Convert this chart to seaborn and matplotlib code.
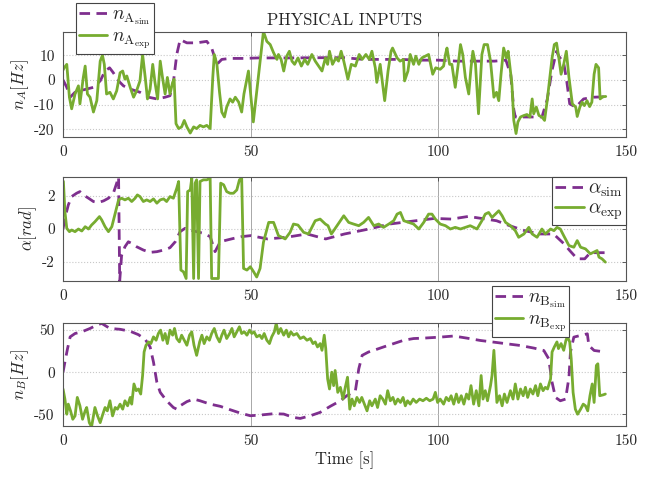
import numpy as np
import pandas as pd
import seaborn as sns
import matplotlib.pyplot as plt

# --- data ---------------------------------------------------------------
# panel 1: n_A [Hz]
t_na_sim = [0, 1, 1.9, 3.2, 4.5, 6.3, 8.1, 9.9, 11.2, 12.4, 13.4, 14.8, 16.1, 17.9,
            20.5, 22.8, 25, 27.2, 28.5, 29.4, 30.3, 31.2, 33, 35.6, 38.3, 39.6, 41,
            42.3, 44.5, 48.1, 52, 60, 70, 75, 80, 90, 95, 100, 105, 110, 115, 118,
            119.3, 120.1, 120.5, 124, 127.6, 129, 130.3, 131.5, 132.1, 133.4, 134.2,
            135, 136.6, 138.7, 141.3, 144.6]
na_sim = [0, -3, -7, -5, -4.4, -3.7, -3, -0.4, 3.6, 4.9, 2.9, -0.4, -2.4, -3.7,
          -5, -7, -7.7, -7, -6.4, -1, 10.3, 16.3, 15, 15, 15.6, 12.9, 6.3,
          8.3, 8.7, 8.7, 8.9, 8.9, 9, 9, 8.3, 8.3, 8, 8, 7.6, 7.6, 7.6, 8,
          2, -12, -15, -15, -15, -8, 4, 11.6, 9.6, 6.9, -0.4,
          -9.7, -11, -7.7, -7, -6.8]

t_na_exp = [0, 0.3, 1, 1.7, 2.3, 3.2, 4.1, 4.5, 5.4, 5.9, 6.5, 7.2, 8.1, 9, 9.9, 10.5,
            11, 11.6, 12.5, 13.4, 14.3, 15.2, 15.9, 16.5, 17, 17.9, 18.8, 19.6, 20.5,
            21.2, 21.9, 22.5, 23.2, 23.9, 24.5, 25.2, 25.9, 26.5, 27.2, 27.8, 28.5,
            29.2, 29.6, 30.1, 30.8, 31.6, 32.3, 33, 33.9, 34.8, 35.6, 36.5, 37.4,
            38.3, 39.2, 39.9, 40.3, 41, 41.7, 42.3, 43, 43.6, 44.5, 45.2, 45.9, 46.8,
            47.6, 48.2, 49.4, 50.7, 53.4, 54.3, 55.2, 56.1, 57, 57.4, 58.1, 58.8,
            59.6, 60.3, 61, 61.7, 62.6, 63.5, 64.4, 65.2, 66.3, 67.2, 69, 69.9, 70.5,
            71, 71.8, 72.7, 73.4, 74.1, 74.8, 75.9, 76.8, 77.9, 78.9, 79.7, 80.7,
            81.6, 82.3, 83.2, 83.6, 84.5, 85.7, 86.6, 87.4, 87.8, 89, 89.8, 90.7, 91,
            91.9, 92.5, 93.4, 94, 94.8, 95.6, 97.4, 98.5, 99.3, 100.5, 101.4, 101.9,
            102.3, 103, 103.6, 104.5, 105.4, 105.9, 106.5, 107.2, 108.1, 108.7,
            109.2, 109.9, 110.7, 111.6, 112.2, 113.1, 113.9, 114.8, 115.5, 116.1,
            116.7, 117.4, 118.1, 118.6, 119.6, 120.1, 120.7, 121.2, 121.9, 122.8,
            123.6, 124.4, 125, 125.4, 126.1, 126.8, 127.6, 128.3, 129, 129.7, 130.3,
            130.9, 131.5, 132.1, 132.7, 133.4, 134.1, 134.8, 135.7, 136.6, 137,
            137.7, 138.3, 138.9, 139.6, 140.3, 140.9, 141.5, 142, 142.7, 143.1,
            143.8, 144.6]
na_exp = [4, 4.9, 6.3, -7, -11.7, -5.7, -2.4, -9.7, 1, 5.6, -5.7, -7, -13, -8.4, 7.6, 10,
          6.3, -5.7, -5, -7.7, -4.4, 2.9, 3.6, 0.3, 1.6, -3, -7, -4.4, -0.4,
          10.3, 1, -7.7, -3.7, 6.3, -1, -7.7, 7.6, 1, -5.7, 1, -5.7,
          -1, 0.3, -17.7, -19.7, -19, -16.4, -19, -21.5, -19, -19.7, -18.4, -19,
          -18.4, -19.7, 1, 10.3, 6.3, -5, -13, -15, -11, -7.7, -9, -7, -9,
          -13, -5.7, 3.6, -17, 19.6, 15.6, 14.3, 11, 8.3, 10.3, 8.3, 3.6,
          9.6, 11.6, 7.6, 6.3, 8.9, 5.6, 8.3, 6.3, 10.3, 7.6, 3.6, 8.9, 6.3,
          11.6, 6.3, 8.9, 7.6, 11.6, 7.6, 0.3, 6.3, 5.6, 10.3, 8.3, 10.3,
          8.3, 11.6, 4.9, -1, 6.3, -8.4, 3.6, 11.6, 12.9, 8.9, 7.6, 8.3, -0.4,
          3.6, 10.3, 6.3, 9.6, 6.3, 8.9, 10.3, 2.3, 4.9, 4.3, 5.6, 10.3,
          12.9, 6.3, 6.3, -3, 7.6, 14.3, 10.3, 1, -5.7, 4.9,
          11.6, 6.3, -13.7, 10.3, 14.3, 14.3, 7.6, -7, -5, -8.4,
          2.3, 12.9, 8.9, 11.6, -1.7, -16.4, -21.7, -17, -15, -14.4,
          -14, -15, -7.7, -13.7, -11, -14.4, -15, -16.4, -8.4, 1, 8.9,
          14.3, 14.9, 8.9, 2.3, 6.3, 11.6, 1, -9.7, -11, -14.8,
          -11, -9, -10.4, -8.4, -10.8, -9, 2.3, 6.3, 4.9, -7.7,
          -6.8, -6.7]

# panel 2: alpha [rad]
t_al_sim = [0, 0.5, 1.4, 2.3, 3.6, 4.5, 5.4, 6.8, 8.1, 9.4, 10.8, 12.1, 13.4, 14.3, 14.8,
            15.1, 15.6, 16.5, 17.4, 18.3, 19.6, 21.4, 23.2, 25, 26.8, 28.5, 29.9,
            31.2, 32.5, 33.9, 35.6, 37.4, 39.2, 40.5, 41.9, 43.6, 45.4, 47.6, 50,
            54.5, 59.5, 65, 70, 75, 81.5, 87, 94, 99, 103.5, 108, 115.5, 119,
            123, 127, 130.7, 133.5, 135, 137, 139, 140.5, 145]
al_sim = [0, 0.65, 1.45, 1.96, 2.16, 2.26, 2.06, 1.86, 1.66, 1.6, 1.7, 1.86, 2.16, 2.77, 3.14,
          -3.14, -1.6, -1.07, -0.77, -0.87, -1.07, -1.27, -1.41, -1.37, -1.27, -1.13, -0.77,
          -0.16, 0.04, -0.06, -0.16, -0.26, -0.46, -1.37, -0.77, -0.67, -0.57, -0.46, -0.4,
          -0.6, -0.5, -0.3, -0.6, -0.3, 0, 0.3, 0.5, 0.64, 0.6, 0.76, 0.5, 0.2,
          -0.1, -0.3, -0.3, -0.9, -1.3, -1.8, -1.8, -1.43, -1.43]

t_al_exp = [0, 0.1, 0.5, 1, 1.7, 2.3, 3.2, 4.1, 5, 5.9, 6.8, 7.6, 8.5, 9.7, 10.3, 11.2,
            12.1, 13, 13.9, 14.8, 15.6, 16.5, 17.4, 18.3, 19.2, 19.8, 20.5, 21.4,
            22.3, 23.2, 24.1, 25, 25.9, 26.8, 27.6, 28.5, 29.4, 30.3, 30.8, 31.4,
            32.1, 32.8, 33.2, 33.9, 34.3, 34.8, 35.2, 35.6, 36.1, 36.5, 37.4, 38.3,
            39.2, 39.6, 40.5, 41.4, 42, 42.8, 43.6, 44.5, 45.4, 46.3, 47, 47.6, 48.1,
            49, 49.9, 50.8, 51.6, 52.5, 53.4, 54.8, 56.1, 57.4, 59.2, 60.5, 61.4,
            62.6, 64.1, 65.4, 67.2, 68.5, 69.9, 70.6, 71.5, 73, 74.8, 76.1, 77.4,
            78.8, 80.1, 81.4, 82.8, 84.1, 85.4, 86.8, 88.1, 89, 89.9, 90.8, 92.1,
            93.4, 94.8, 96.1, 97.4, 98.3, 99.2, 100.5, 101.9, 103.2, 104.5, 105.9,
            107.2, 108.5, 110.3, 111.6, 112.5, 113.4, 114.3, 115.2, 116.1, 117,
            117.9, 119.2, 120.5, 121.4, 122.8, 124.1, 125, 126.3, 127.6, 128.5,
            129.9, 130.8, 131.6, 132.5, 133.4, 134.8, 136.1, 137, 137.9, 139.2,
            140.5, 141.4, 142.3, 142.8, 143.6, 144.5]
al_exp = [2.9, 2.87, 1.05, 0.04, -0.16, -0.06, -0.16, 0, -0.12, 0.14, 0, 0.24, 0.44, 0.75, 0.55, 0.14,
          -0.16, 0.14, 0.95, 1.76, 1.86, 1.76, 1.86, 1.66, 1.86, 2.06, 1.96, 1.66,
          1.76, 1.66, 1.82, 1.56, 1.76, 1.82, 1.66, 1.96, 1.86, 2.46, 2.87, -2.48,
          -2.59, -2.99, 2.26, 2.36, 3.07, -2.99, 2.77, 2.97, -2.99, 2.87, 2.97, 2.97,
          3.07, -2.99, -2.99, -2.99, 2.77, 2.67, 2.26, 2.16, 2.16, 2.36, 2.97, 3.07, -2.38,
          -2.48, -2.28, -2.59, -2.9, -2.38, -0.8, 0.4, 0.4, -0.4, -0.6, -0.2, 0.3,
          0.24, -0.2, -0.3, 0.5, 0.6, 0.3, 0.2, -0.3, 0.2, 0.8, 0.4, 0.3,
          0.2, 0.4, 0.7, 0.2, 0.3, 0.1, 0.3, 0.5, 0.9, 1.0, 0.5, 0.4,
          0.3, 0, 0.4, 0.9, 0.9, 0.6, 0.3, 0.2, 0, 0.1, 0,
          0.1, 0.2, 0, 0.5, 0.9, 1.0, 0.7, 0.9, 1.1, 0.8,
          0.4, 0.2, -0.1, -0.5, -0.3, 0.1, -0.3, -0.5, 0, -0.3,
          0, -0.1, 0.1, 0, -0.4, -1.0, -1.1, -0.7, -1.1, -1.2,
          -1.5, -1.4, -1.3, -1.7, -1.8, -2.0]

# panel 3: n_B [Hz]
t_nb_sim = [0, 0.5, 1.2, 1.9, 3.2, 5, 7.2, 9, 10.3, 12.5, 15.2, 17.9, 20.1, 21.9, 23.2,
            24.1, 25, 25.9, 27.6, 29.4, 30.3, 31.2, 33, 34.8, 36.5, 39.2, 41.9, 44.5,
            47.2, 49.9, 52.5, 56.1, 58.8, 61.4, 63.2, 65.9, 68.5, 71.2, 73.9, 75.6,
            77.9, 78.8, 79.7, 81.4, 82.8, 85.4, 88.1, 90.8, 93.4, 96.1, 100.5, 104.1,
            107.6, 111.2, 114.8, 118.3, 121.9, 125.5, 128.1, 129.4, 130.3, 131.2,
            132.5, 133.9, 134.8, 135.2, 136.1, 137.9, 139.7, 140.1, 141.5, 144.5]
nb_sim = [0, 12, 28, 42, 46, 48, 52, 56, 58, 52, 51, 48.6, 44.6, 39, 30,
          12, -12, -24, -34, -42, -44, -40, -35, -32, -34, -38, -40.6, -44.6,
          -48.6, -51.8, -51, -49.4, -49.8, -53.8, -55, -51.8, -47.8, -40.6, -34, -28,
          -22, 4, 20, 24, 26, 30, 34, 38, 40, 40.5, 41.7, 43,
          40.5, 37.7, 35.7, 33.7, 31.7, 28.6, 25.8, 16, -12, -30,
          -34, -32, -6, 24, 41.7, 43.7, 45.6, 31.7, 25.8, 24]

t_nb_exp = [0, 0.5, 1, 1.4, 2, 2.6, 3.2, 3.8, 4.5, 5.2, 5.9, 6.3, 7, 7.6, 8.1, 8.5, 9.2,
            9.9, 10.6, 11.2, 11.8, 12.5, 13.2, 13.9, 14.5, 15.2, 15.9, 16.5, 17.2,
            17.9, 18.3, 18.9, 19.5, 20.1, 20.7, 21.2, 21.6, 22.1, 22.8, 23.4, 24.1,
            24.8, 25.4, 26, 26.6, 27.2, 27.8, 28.5, 29.2, 29.7, 30.3, 31, 31.6, 32.3,
            33, 33.7, 34.3, 34.9, 35.6, 36.4, 37, 37.6, 38.3, 39, 39.6, 40.3, 41,
            41.7, 42.3, 42.9, 43.6, 44.4, 45, 45.6, 46.3, 47, 47.6, 48.3, 49, 49.7,
            50.3, 50.9, 51.6, 52.4, 53, 53.6, 54.3, 55, 55.6, 56.3, 56.8, 57.4, 58,
            58.8, 59.5, 60.1, 60.7, 61.4, 62.3, 63.2, 64.1, 65, 65.9, 66.6, 67.2,
            67.8, 68.5, 69, 69.6, 70, 70.5, 71, 71.6, 72.1, 72.5, 73.2, 73.9, 74.6,
            75.2, 75.8, 76.4, 77, 77.6, 78.3, 79, 79.6, 80.3, 81, 81.7, 82.3, 83.2,
            83.8, 84.5, 85.2, 85.9, 86.5, 87.2, 87.9, 88.5, 89.2, 89.9, 90.6, 91.2,
            91.8, 92.5, 93.3, 94.1, 95, 95.9, 96.8, 97.7, 98.6, 99.2, 99.8, 100.5,
            101.4, 102.1, 102.8, 103.4, 104.1, 104.8, 105.4, 106.1, 106.8, 107.5,
            108.1, 108.7, 109.4, 110.1, 110.8, 111.4, 111.9, 112.5, 113.1, 113.9,
            114.3, 114.8, 115.2, 115.6, 116.3, 117, 117.6, 118.3, 119.2, 119.9,
            120.5, 121.2, 121.9, 122.6, 123.2, 123.8, 124.5, 125.2, 125.9, 126.5,
            127.2, 127.9, 128.5, 129.1, 129.9, 130.3, 130.9, 131.6, 132, 132.7,
            133.4, 134, 134.4, 135, 135.4, 135.9, 136.5, 137.1, 137.9, 138.6,
            139.2, 139.8, 140.4, 141, 141.5, 142.1, 142.5, 143, 143.9, 144.5]
nb_exp = [-20, -32, -50, -38, -46, -56, -52, -30, -40, -56, -46, -42, -60, -65, -52, -42, -52,
          -60, -50, -42, -46, -34, -52, -42, -44, -38, -44, -34, -40,
          -30, -38, -14, -22, -20, -26, -4, 24, 32, 36, 34, 42,
          38, 46, 50, 38, 46, 34, 50, 44, 52, 40, 36, 44, 38,
          32, 44, 48, 32, 20, 36, 44, 34, 42, 38, 46, 52, 42,
          36, 44, 50, 40, 46, 52, 42, 48, 54, 46, 48, 44, 50,
          46, 48, 42, 44, 40, 46, 38, 34, 42, 48, 58, 46, 52,
          44, 50, 42, 48, 44, 46, 40, 42, 38, 40, 34, 36,
          30, 34, 26, 44, 28, -8, -20, 0, -16, 2, -24, -18, -32,
          -18, -6, -44, -32, -40, -30, -36, -30, -38, -46, -34, -40, -32,
          -42, -28, -32, -38, -22, -34, -30, -38, -32, -36, -30, -40,
          -34, -38, -32, -36, -32, -34, -31, -34, -32, -24, -36, -32,
          -38, -30, -34, -28, -38, -26, -36, -28, -38, -26,
          -32, -16, -38, -22, -40, -4, -32, -22, -34, -16,
          -4, 26, -4, -36, -28, -40, -26, -36, -22, -32,
          -14, -32, -20, -28, -18, -30, -20, -26, -16, -28,
          -14, -22, -18, -20, -8, 24, 30, 36, 28, 34,
          26, 38, 42, 36, 16, -24, -44, -50, -44, -38,
          -40, -46, -28, -14, -36, 8, 10, -28, -27, -26]

# --- style -----------------------------------------------------------------
PURPLE = '#7E2F8E'
GREEN = '#77AC30'

sns.set_theme(style="white")
plt.rcParams['font.family'] = ['cmr10', 'DejaVu Serif']
plt.rcParams['mathtext.fontset'] = 'cm'
plt.rcParams['axes.unicode_minus'] = False
plt.rcParams['axes.formatter.use_mathtext'] = False

panels = [
    dict(t_sim=t_na_sim, sim=na_sim, t_exp=t_na_exp, exp=na_exp,
         ylim=(-23.1, 19.4), yticks=[-20, -10, 0, 10], ylabel=r'$n_A[Hz]$',
         lab_sim=r'$n_{\mathrm{A}_{\mathrm{sim}}}$', lab_exp=r'$n_{\mathrm{A}_{\mathrm{exp}}}$',
         rect=[0.0955, 0.7134, 0.853, 0.2197],
         leg=dict(loc='upper left', bbox_to_anchor=(0.023, 1.276))),
    dict(t_sim=t_al_sim, sim=al_sim, t_exp=t_al_exp, exp=al_exp,
         ylim=(-np.pi, np.pi), yticks=[-2, 0, 2], ylabel=r'$\alpha[rad]$',
         lab_sim=r'$\alpha_{\mathrm{sim}}$', lab_exp=r'$\alpha_{\mathrm{exp}}$',
         rect=[0.0955, 0.4121, 0.853, 0.2176],
         leg=dict(loc='upper right', bbox_to_anchor=(1.0, 1.0))),
    dict(t_sim=t_nb_sim, sim=nb_sim, t_exp=t_nb_exp, exp=nb_exp,
         ylim=(-64, 58.5), yticks=[-50, 0, 50], ylabel=r'$n_B[Hz]$',
         lab_sim=r'$n_{\mathrm{B}_{\mathrm{sim}}}$', lab_exp=r'$n_{\mathrm{B}_{\mathrm{exp}}}$',
         rect=[0.0955, 0.1088, 0.853, 0.2155],
         leg=dict(loc='upper left', bbox_to_anchor=(0.762, 1.359))),
]

fig = plt.figure(figsize=(6.6, 4.78), dpi=100)

for i, p in enumerate(panels):
    ax = fig.add_axes(p['rect'])
    df_sim = pd.DataFrame({'t': p['t_sim'], 'v': p['sim']})
    df_exp = pd.DataFrame({'t': p['t_exp'], 'v': p['exp']})
    sns.lineplot(data=df_sim, x='t', y='v', ax=ax, color=PURPLE, linewidth=2.0,
                 linestyle=(0, (3.8, 2.3)), label=p['lab_sim'], sort=False)
    sns.lineplot(data=df_exp, x='t', y='v', ax=ax, color=GREEN, linewidth=2.0,
                 label=p['lab_exp'], sort=False)

    ax.set_xlim(0, 150)
    ax.set_ylim(*p['ylim'])
    ax.set_xticks([0, 50, 100, 150])
    ax.set_yticks(p['yticks'])
    ax.set_xlabel('')
    ax.set_ylabel(p['ylabel'], fontsize=12, labelpad=2)
    ax.tick_params(direction='in', length=3, width=0.6, color='#444444',
                   top=True, right=True, labelsize=11, pad=6)
    ax.grid(True, axis='y', linestyle=':', color='#c8c8c8', linewidth=0.8)
    ax.grid(True, axis='x', linestyle='-', color='#a8a8a8', linewidth=0.7)
    for s in ax.spines.values():
        s.set_color('#555555')
        s.set_linewidth(0.8)

    leg = ax.legend(fontsize=14, frameon=True, fancybox=False, framealpha=1,
                    edgecolor='#444444', borderaxespad=0, handlelength=1.45,
                    handletextpad=0.25, borderpad=0.15, labelspacing=0.02, **p['leg'])
    leg.get_frame().set_linewidth(0.8)
    leg.set_zorder(5)

    if i == 0:
        ax.set_title('PHYSICAL INPUTS', fontsize=12, pad=5)
    if i == 2:
        ax.set_xlabel('Time [s]', fontsize=12, labelpad=2)

fig.savefig('out.png', dpi=100, facecolor='white')
